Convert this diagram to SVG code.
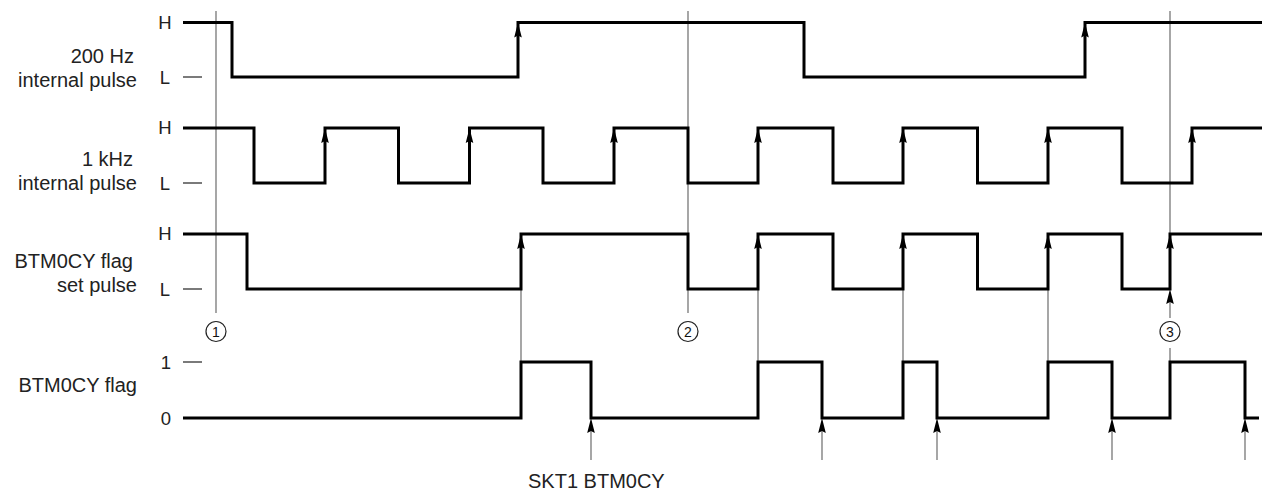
<svg xmlns="http://www.w3.org/2000/svg" width="1263" height="491" viewBox="0 0 1263 491">
<style>
.lbl{font-family:"Liberation Sans",Arial,sans-serif;font-size:20px;fill:#222;text-anchor:end}
.lv{font-family:"Liberation Sans",Arial,sans-serif;font-size:18.5px;fill:#222;text-anchor:middle}
.num{font-family:"Liberation Sans",Arial,sans-serif;font-size:14px;fill:#111;text-anchor:middle}
.wave{fill:none;stroke:#000;stroke-width:3;stroke-linejoin:miter;stroke-linecap:butt}
.thin{fill:none;stroke:#777;stroke-width:1.3}
.dash{stroke:#222;stroke-width:1.2}
.head{fill:#000}
.circ{fill:#fff;stroke:#222;stroke-width:1.2}
</style>
<defs>
<path id="ah" d="M0,0 L3.8,15 L0,13 L-3.8,15 Z"/>
</defs>

<g id="labels">
<text class="lbl" x="134" y="63">200 Hz</text>
<text class="lbl" x="137" y="87">internal pulse</text>
<text class="lbl" x="133" y="166">1 kHz</text>
<text class="lbl" x="137" y="190">internal pulse</text>
<text class="lbl" x="133" y="268">BTM0CY flag</text>
<text class="lbl" x="137" y="292">set pulse</text>
<text class="lbl" x="137" y="392">BTM0CY flag</text>
<text class="lbl" x="528" y="488" style="text-anchor:start">SKT1 BTM0CY</text>
</g>

<g id="levels">
<text class="lv" x="165" y="29">H</text>
<text class="lv" x="165" y="84">L</text>
<line class="dash" x1="183" y1="77" x2="202" y2="77"/>
<text class="lv" x="165" y="134">H</text>
<text class="lv" x="165" y="190">L</text>
<line class="dash" x1="183" y1="183" x2="202" y2="183"/>
<text class="lv" x="165" y="240">H</text>
<text class="lv" x="165" y="296">L</text>
<line class="dash" x1="183" y1="289" x2="202" y2="289"/>
<text class="lv" x="166" y="369">1</text>
<line class="dash" x1="183" y1="362" x2="202" y2="362"/>
<text class="lv" x="166" y="425">0</text>
</g>

<g id="connectors">
<line class="thin" x1="216" y1="11" x2="216" y2="313"/>
<line class="thin" x1="688" y1="11" x2="688" y2="313"/>
<line class="thin" x1="1170" y1="11" x2="1170" y2="234"/>
<line class="thin" x1="1170" y1="318" x2="1170" y2="295"/>
<use href="#ah" class="head" x="1170" y="289"/>
<line class="thin" x1="1170" y1="348" x2="1170" y2="362"/>
<line class="thin" x1="521" y1="289" x2="521" y2="362"/>
<line class="thin" x1="758" y1="289" x2="758" y2="362"/>
<line class="thin" x1="903" y1="289" x2="903" y2="362"/>
<line class="thin" x1="1048" y1="289" x2="1048" y2="362"/>
<line class="thin" x1="591" y1="460" x2="591" y2="424"/>
<use href="#ah" class="head" x="591" y="418"/>
<line class="thin" x1="822" y1="460" x2="822" y2="424"/>
<use href="#ah" class="head" x="822" y="418"/>
<line class="thin" x1="937" y1="460" x2="937" y2="424"/>
<use href="#ah" class="head" x="937" y="418"/>
<line class="thin" x1="1112" y1="460" x2="1112" y2="424"/>
<use href="#ah" class="head" x="1112" y="418"/>
<line class="thin" x1="1245" y1="460" x2="1245" y2="424"/>
<use href="#ah" class="head" x="1245" y="418"/>
</g>

<g id="wave-200hz">
<path class="wave" d="M183,22.5 H232 V77 H518 V22.5 H804 V77 H1085 V22.5 H1262"/>
<use href="#ah" class="head" x="518" y="22.5"/>
<use href="#ah" class="head" x="1085" y="22.5"/>
</g>

<g id="wave-1khz">
<path class="wave" d="M183,128 H254 V183 H325 V128 H398.5 V183 H469.5 V128 H543 V183 H614 V128 H688 V183 H758 V128 H833 V183 H903 V128 H977.5 V183 H1048 V128 H1122 V183 H1192 V128 H1262"/>
<use href="#ah" class="head" x="325" y="128"/>
<use href="#ah" class="head" x="469.5" y="128"/>
<use href="#ah" class="head" x="614" y="128"/>
<use href="#ah" class="head" x="758" y="128"/>
<use href="#ah" class="head" x="903" y="128"/>
<use href="#ah" class="head" x="1048" y="128"/>
<use href="#ah" class="head" x="1192" y="128"/>
</g>

<g id="wave-setpulse">
<path class="wave" d="M183,234 H247 V289 H521 V234 H688 V289 H758 V234 H833 V289 H903 V234 H977.5 V289 H1048 V234 H1122 V289 H1170 V234 H1262"/>
<use href="#ah" class="head" x="521" y="234"/>
<use href="#ah" class="head" x="758" y="234"/>
<use href="#ah" class="head" x="903" y="234"/>
<use href="#ah" class="head" x="1048" y="234"/>
<use href="#ah" class="head" x="1170" y="234"/>
</g>

<g id="wave-flag">
<path class="wave" d="M183,418 H521 V362 H591 V418 H758 V362 H822 V418 H903 V362 H937 V418 H1048 V362 H1112 V418 H1170 V362 H1245 V418 H1259"/>
</g>

<g id="marker-1">
<circle class="circ" cx="216" cy="331.5" r="10"/>
<text class="num" x="216" y="336.5">1</text>
</g>
<g id="marker-2">
<circle class="circ" cx="688" cy="331.5" r="10"/>
<text class="num" x="688" y="336.5">2</text>
</g>
<g id="marker-3">
<circle class="circ" cx="1170" cy="331.5" r="10"/>
<text class="num" x="1170" y="336.5">3</text>
</g>
</svg>
